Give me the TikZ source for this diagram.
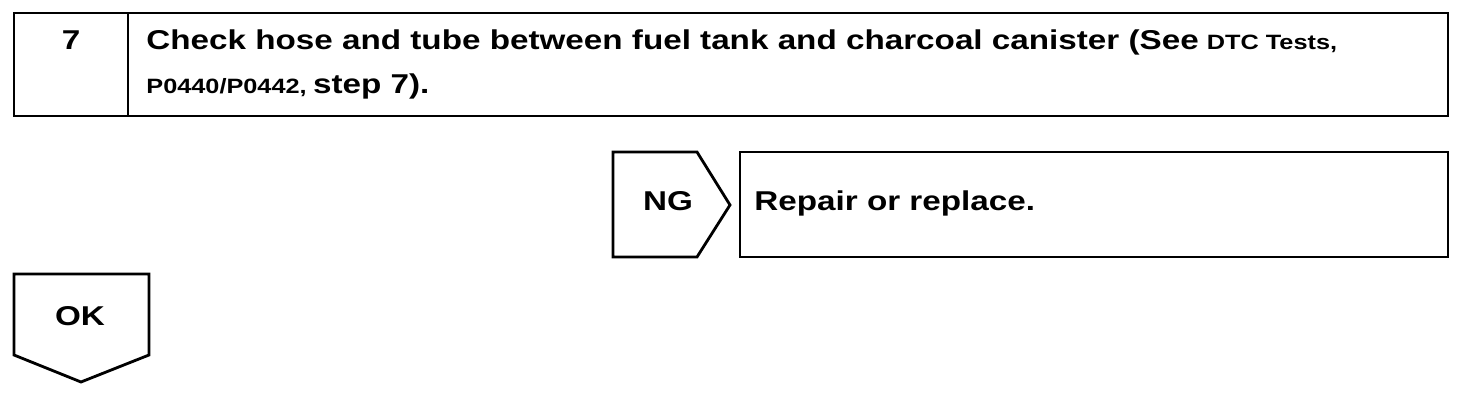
\documentclass[tikz,border=0pt]{standalone}
\usepackage{fontspec}
\setmainfont{Liberation Sans}
\newfontfamily\widefont[FakeStretch=1.22]{Liberation Sans}
\begin{document}
\begin{tikzpicture}[x=0.02cm,y=-0.02cm,line width=1.6pt,
    big/.style={font=\widefont\bfseries\fontsize{15.5}{18}\selectfont,inner sep=0pt},
    little/.style={font=\widefont\bfseries\fontsize{11.8}{15}\selectfont,inner sep=0pt}]
      \useasboundingbox (0,0) rectangle (1472,408);
      \draw (14,13) rectangle (1448,116);
      \draw (128,13) -- (128,116);
      \draw (613,152) -- (697,152) -- (730,205) -- (697,257) -- (613,257) -- cycle;
      \draw (740,152) rectangle (1448,257);
      \draw (14,274) -- (149,274) -- (149,355) -- (81,382) -- (14,355) -- cycle;
      \draw
        (71,50) node[big,anchor=base] (num){7}
        (145,50) node[big,anchor=base west] (check){Check hose and tube between fuel tank and charcoal canister (See}
        (check.base east) node[little,anchor=base west,xshift=3pt] (dtc){DTC Tests,}
        (145,94) node[little,anchor=base west] (code){P0440/P0442,}
        (code.base east) node[big,anchor=base west,xshift=2pt] (stp){step 7).}
        (668,211) node[big,anchor=base] (ng){NG}
        (753,211) node[big,anchor=base west] (fix){Repair or replace.}
        (80,326) node[big,anchor=base] (ok){OK};
    \end{tikzpicture}
\end{document}
